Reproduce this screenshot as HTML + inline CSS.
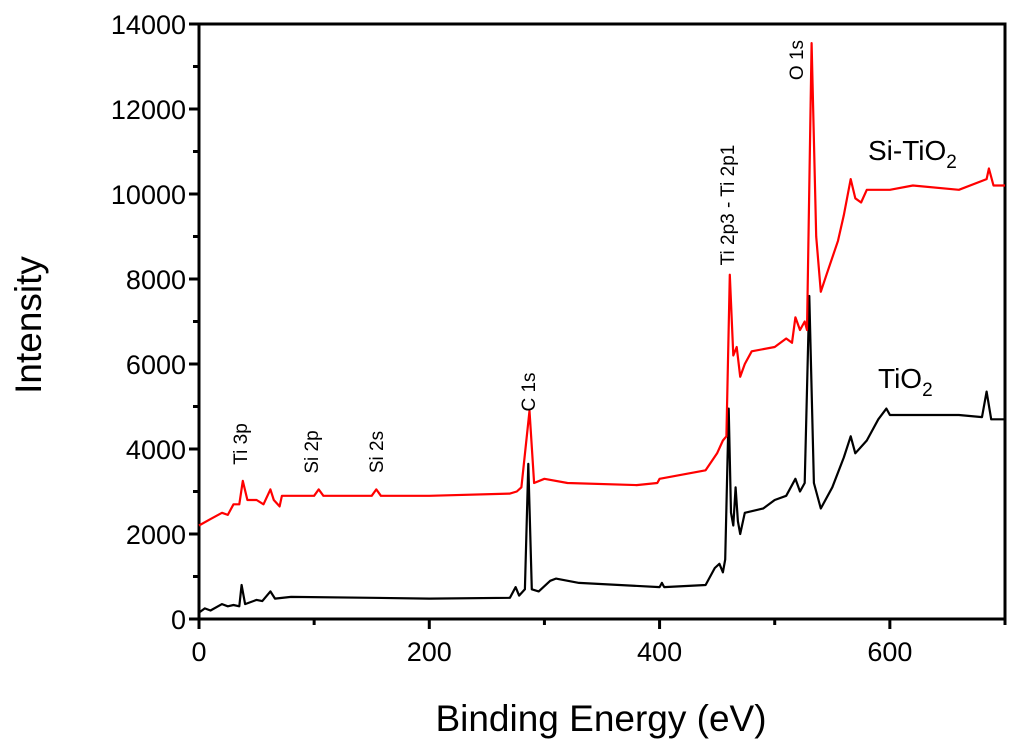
<!DOCTYPE html>
<html><head><meta charset="utf-8"><style>
html,body{margin:0;padding:0;background:#fff;}
svg{display:block;font-family:"Liberation Sans",Arial,sans-serif;}
</style></head><body>
<svg id="chart" width="1024" height="751" viewBox="0 0 1024 751" xmlns="http://www.w3.org/2000/svg">
<g id="axes"></g>
<g id="series"></g>
<g id="labels"></g>
</svg>
<script>
const xTicks = [0, 200, 400, 600];
const xMinor = [100, 300, 500, 700];
const yTicks = [0, 2000, 4000, 6000, 8000, 10000, 12000, 14000];
const yMinor = [1000, 3000, 5000, 7000, 9000, 11000, 13000];
const tio2E = [0,5,10,20,25,30,35,37,40,50,55,62,66,80,150,200,270,275,278,283,286,289,295,305,310,330,400,402,404,440,448,452,455,457,460,462,464,466,468,470,474,490,500,510,518,522,526,530,534,540,550,560,566,570,580,590,597,600,620,660,680,684,688,700];
const tio2I = [150,250,200,350,300,330,300,800,350,450,420,650,480,520,500,480,500,750,550,700,3650,700,650,900,950,850,750,850,750,800,1200,1300,1100,1400,4950,2500,2200,3100,2300,2000,2500,2600,2800,2900,3300,3000,3200,7600,3200,2600,3100,3800,4300,3900,4200,4700,4950,4800,4800,4800,4750,5350,4700,4700];
const sitiE = [0,10,20,25,30,35,38,42,50,56,62,65,70,72,80,100,104,108,150,154,158,200,270,276,280,287,291,300,320,380,398,400,440,450,455,458,461,464,467,470,474,480,500,510,515,518,522,526,528,532,536,540,545,555,560,566,570,575,580,600,620,660,684,686,690,700];
const sitiI = [2200,2350,2500,2450,2700,2700,3250,2800,2800,2700,3050,2800,2650,2900,2900,2900,3050,2900,2900,3050,2900,2900,2950,3000,3100,4900,3200,3300,3200,3150,3200,3300,3500,3900,4200,4300,8100,6200,6400,5700,6000,6300,6400,6600,6500,7100,6800,7000,6800,13550,9000,7700,8100,8900,9500,10350,9900,9800,10100,10100,10200,10100,10350,10600,10200,10200];

const X0=199, X1=1005, Y0=619, Y1=24;
const sx = v => X0 + (v/700)*(X1-X0);
const sy = v => Y0 - (v/14000)*(Y0-Y1);
const NS="http://www.w3.org/2000/svg";
function mk(tag, attrs, parent, text){
  const e=document.createElementNS(NS,tag);
  for(const k in attrs) e.setAttribute(k,attrs[k]);
  if(text!==undefined) e.textContent=text;
  parent.appendChild(e); return e;
}
const axes=document.getElementById('axes');
const frame=mk('rect',{x:X0,y:Y1,width:X1-X0,height:Y0-Y1,fill:'none',stroke:'#000','stroke-width':3},axes);


xTicks.forEach(v=>{
  const t=mk('line',{x1:sx(v),x2:sx(v),y1:Y0,y2:Y0+10,stroke:'#000','stroke-width':3},axes);
  
  
  const l=mk('text',{x:sx(v),y:Y0+42,'font-size':27,'text-anchor':'middle'},axes,String(v));
  
  
});
xMinor.forEach(v=>{
  const t=mk('line',{x1:sx(v),x2:sx(v),y1:Y0,y2:Y0+6,stroke:'#000','stroke-width':3},axes);
  
  
});
yTicks.forEach(v=>{
  const t=mk('line',{x1:X0-10,x2:X0,y1:sy(v),y2:sy(v),stroke:'#000','stroke-width':3},axes);
  
  
  const l=mk('text',{x:X0-13,y:sy(v)+10,'font-size':27,'text-anchor':'end'},axes,String(v));
  
  
});
yMinor.forEach(v=>{
  const t=mk('line',{x1:X0-6,x2:X0,y1:sy(v),y2:sy(v),stroke:'#000','stroke-width':3},axes);
  
  
});
const xt=mk('text',{x:601,y:731,'font-size':37,'text-anchor':'middle'},axes,'Binding Energy (eV)');


const yt=mk('text',{x:0,y:0,'font-size':37,'text-anchor':'middle',transform:'translate(41,325) rotate(-90)'},axes,'Intensity');



const series=document.getElementById('series');
function line(E,I,color,name){
  const d=E.map((e,i)=>(i?'L':'M')+sx(e).toFixed(1)+','+sy(I[i]).toFixed(1)).join('');
  const p=mk('path',{d:d,fill:'none',stroke:color,'stroke-width':2.2,'stroke-linejoin':'round'},series);
  
  
}
line(tio2E,tio2I,'#000','tio2-line');
line(sitiE,sitiI,'#ff0000','si-tio2-line');

const labels=document.getElementById('labels');
function rot(txt,x,y,name){
  const t=mk('text',{x:0,y:0,'font-size':19,'text-anchor':'middle',transform:`translate(${x},${y}) rotate(-90)`},labels,txt);
  
  
}
rot('Ti 3p',247,444,'ti3p-label');
rot('Si 2p',318,452,'si2p-label');
rot('Si 2s',383,452,'si2s-label');
rot('C 1s',535,392,'c1s-label');
rot('Ti 2p3 - Ti 2p1',734,205,'ti2p-label');
rot('O 1s',803,60,'o1s-label');
const s1=mk('text',{x:868,y:160,'font-size':28},labels);


s1.innerHTML='Si-TiO<tspan dy="8" font-size="19">2</tspan>';
const s2=mk('text',{x:878,y:388,'font-size':28},labels);


s2.innerHTML='TiO<tspan dy="8" font-size="19">2</tspan>';
</script>
</body></html>
